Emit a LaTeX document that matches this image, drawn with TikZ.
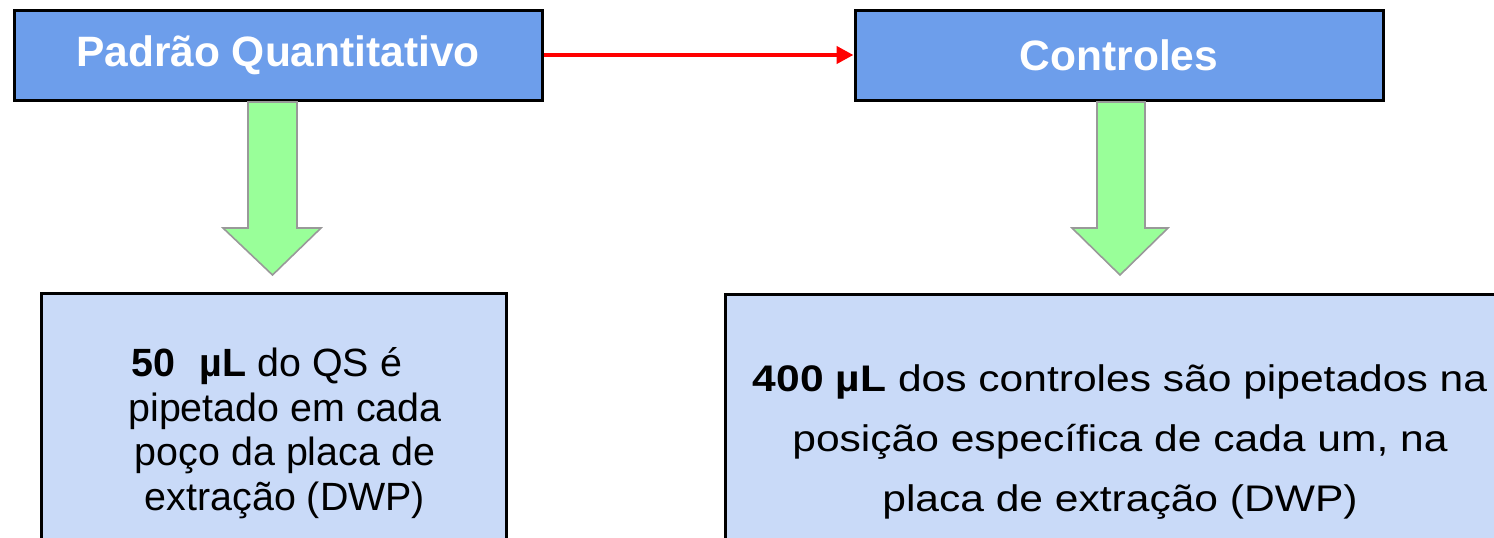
\documentclass[tikz,border=0pt]{standalone}
\usepackage{fontspec}
\setmainfont{Liberation Sans}
\newfontfamily\widefont[FakeStretch=1.15]{Liberation Sans}
\usetikzlibrary{arrows.meta}
\definecolor{topblue}{RGB}{109,158,235}
\definecolor{lightblue}{RGB}{201,218,248}
\definecolor{arrowgreen}{RGB}{153,255,153}
\definecolor{arrowgray}{RGB}{153,153,153}
\tikzset{
  topbox/.style={draw=black, line width=3pt, fill=topblue, rectangle, inner sep=0pt,
    text=white, font=\fontsize{42.5}{48}\selectfont\bfseries},
  bottombox/.style={draw=black, line width=3pt, fill=lightblue, rectangle, inner sep=0pt},
  boxtext/.style={align=center, inner sep=0pt},
  bigarrow/.style={draw=arrowgray, line width=1.6pt, fill=arrowgreen, line join=miter},
  redline/.style={draw=red, line width=4.5pt, -{Triangle[length=17pt,width=17pt]}}
}
\begin{document}
\begin{tikzpicture}[x=1pt,y=-1pt]
\useasboundingbox (0,0) rectangle (1494,538);
\clip (0,0) rectangle (1494,538);
\node[topbox, minimum width=528pt, minimum height=90pt] (pq) at (278,55) {Padrão Quantitativo};
\node[topbox, minimum width=528pt, minimum height=90pt] (ct) at (1119,55) {Controles};
\draw[redline] (pq.east) -- (ct.west);
\node[bottombox, minimum width=465pt, minimum height=278pt, anchor=north west] (bl) at (40,292) {};
\node[boxtext, font=\fontsize{39.4}{44.5}\selectfont] (blt) at (285,433)
  {\textbf{50\hspace{24pt}µL} do QS é\hspace{36pt}\mbox{}\\pipetado em cada\\poço da placa de\\extração (DWP)};
\node[bottombox, minimum width=840pt, minimum height=294pt, anchor=north west] (br) at (724,293) {};
\node[boxtext, font=\fontsize{37}{60}\widefont] (brt) at (1120,442)
  {\textbf{400 µL} dos controles são pipetados na\\posição específica de cada um, na\\placa de extração (DWP)};
\draw[bigarrow] (248,102) -- (297,102) -- (297,228) -- (321,228) -- (272.5,275)
  -- (223,228) -- (248,228) -- cycle;
\draw[bigarrow] (1097,102) -- (1145,102) -- (1145,228) -- (1168,228) -- (1120,275)
  -- (1072,228) -- (1097,228) -- cycle;
\end{tikzpicture}
\end{document}
